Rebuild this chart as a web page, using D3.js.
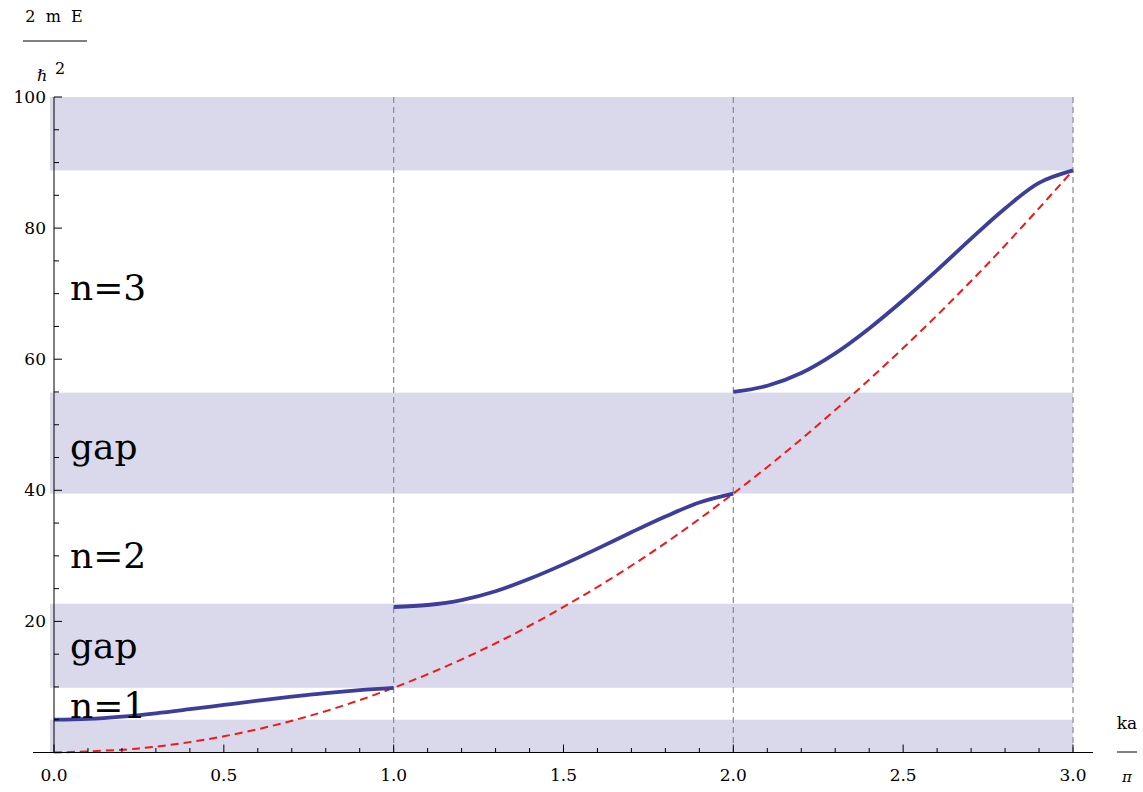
<!DOCTYPE html>
<html>
<head>
<meta charset="utf-8">
<script src="https://cdn.jsdelivr.net/npm/d3@7"></script>
<style>
  body { margin: 0; background: #fff; }
  text { font-family: "DejaVu Serif", serif; }
</style>
</head>
<body>
<svg></svg>
<script>
// band structure, k in units of pi/a, energy in 2mE/hbar^2
const band1K = [0.0, 0.1, 0.2, 0.3, 0.4, 0.5, 0.6, 0.7, 0.8, 0.9, 1.0]
const band1E = [5.0, 5.12, 5.47, 5.98, 6.6, 7.25, 7.9, 8.52, 9.07, 9.52, 9.87]
const band2K = [1.0, 1.1, 1.2, 1.3, 1.4, 1.5, 1.6, 1.7, 1.8, 1.9, 2.0]
const band2E = [22.2, 22.5, 23.25, 24.6, 26.5, 28.7, 31.1, 33.6, 36.0, 38.15, 39.5]
const band3K = [2.0, 2.1, 2.2, 2.3, 2.4, 2.5, 2.6, 2.7, 2.8, 2.9, 3.0]
const band3E = [55.0, 55.95, 57.9, 60.9, 64.7, 69.0, 73.6, 78.4, 83.0, 86.9, 88.8]

// free electron curve (red dashed)
const freeK = [0, 0.25, 0.5, 0.75, 1.0, 1.25, 1.5, 1.75, 2.0, 2.25, 2.5, 2.75, 3.0]
const freeE = [0, 0.62, 2.47, 5.55, 9.87, 15.4, 22.2, 30.2, 39.5, 50.0, 61.7, 74.6, 88.8]

// forbidden energy ranges (shaded)
const shadeLow = [0, 9.87, 39.5, 88.8]
const shadeHigh = [5.0, 22.7, 54.9, 100]

// zone boundaries
const zoneK = [1, 2, 3]

// text labels in the plot
const labelText = ['n=3', 'gap', 'n=2', 'gap', 'n=1']
const labelE = [69.0, 44.7, 28.2, 14.4, 5.3]

const xTicks = [0, 0.5, 1.0, 1.5, 2.0, 2.5, 3.0]
const yTicks = [20, 40, 60, 80, 100]

function zip(ks, es) {
  return ks.map((k, i) => ({k: k, e: es[i]}))
}

function makePlot() {
  const WIDTH = 1143
  const HEIGHT = 792
  const X0 = 54, X1 = 1073
  const Y0 = 752.5, Y1 = 97

  const x = d3.scaleLinear().domain([0, 3]).range([X0, X1])
  const y = d3.scaleLinear().domain([0, 100]).range([Y0, Y1])

  const svg = d3.select('svg')
  svg.attr('width', WIDTH)
  svg.attr('height', HEIGHT)

  // shaded gaps
  svg.append('g').selectAll('rect')
    .data(shadeLow.map((lo, i) => ({lo: lo, hi: shadeHigh[i]})))
    .enter().append('rect')
      .attr('x', x(0) - 4)
      .attr('y', d => y(d.hi))
      .attr('width', x(3) - x(0) + 4)
      .attr('height', d => y(d.lo) - y(d.hi))
      .attr('fill', '#d9d9eb')

  // dashed zone lines
  svg.append('g').selectAll('line')
    .data(zoneK)
    .enter().append('line')
      .attr('x1', d => x(d)).attr('x2', d => x(d))
      .attr('y1', y(100)).attr('y2', y(0))
      .attr('stroke', '#8a8a8a')
      .attr('stroke-width', 1.2)
      .attr('stroke-dasharray', '6,4')

  const line = d3.line()
    .x(d => x(d.k))
    .y(d => y(d.e))
    .curve(d3.curveCatmullRom.alpha(0.5))

  svg.append('path')
    .datum(zip(freeK, freeE))
    .attr('d', line)
    .attr('fill', 'none')
    .attr('stroke', '#f01818')
    .attr('stroke-width', 2)
    .attr('stroke-dasharray', '8,5')

  const bands = [zip(band1K, band1E), zip(band2K, band2E), zip(band3K, band3E)]
  svg.append('g').selectAll('path')
    .data(bands)
    .enter().append('path')
      .attr('d', line)
      .attr('fill', 'none')
      .attr('stroke', '#3d3d9c')
      .attr('stroke-width', 3.8)

  // axes
  const xAxis = svg.append('g')
    .attr('transform', `translate(0,${Y0})`)
  xAxis.append('line')
    .attr('x1', 33).attr('x2', 1093)
    .attr('stroke', '#000')
  xAxis.selectAll('.minor')
    .data(d3.range(0, 31).map(i => i / 10))
    .enter().append('line')
      .attr('x1', d => x(d)).attr('x2', d => x(d))
      .attr('y1', 0)
      .attr('y2', (d, i) => i % 5 === 0 ? -8 : -4.5)
      .attr('stroke', '#000')
  xAxis.selectAll('text')
    .data(xTicks)
    .enter().append('text')
      .attr('x', d => x(d))
      .attr('y', 28)
      .attr('text-anchor', 'middle')
      .attr('font-size', 17)
      .text(d => d.toFixed(1))

  const yAxis = svg.append('g')
    .attr('transform', `translate(${X0},0)`)
  yAxis.append('line')
    .attr('y1', y(100)).attr('y2', y(0))
    .attr('stroke', '#000')
  yAxis.selectAll('.minor')
    .data(d3.range(1, 21).map(i => i * 5))
    .enter().append('line')
      .attr('y1', d => y(d)).attr('y2', d => y(d))
      .attr('x1', 0)
      .attr('x2', d => d % 20 === 0 ? 8 : 5)
      .attr('stroke', '#000')
  yAxis.selectAll('text')
    .data(yTicks)
    .enter().append('text')
      .attr('x', -8)
      .attr('y', d => y(d) + 6)
      .attr('text-anchor', 'end')
      .attr('font-size', 17)
      .text(d => d)

  // labels inside plot
  svg.append('g').selectAll('text')
    .data(labelText.map((t, i) => ({t: t, e: labelE[i]})))
    .enter().append('text')
      .attr('x', 70)
      .attr('y', d => y(d.e))
      .attr('font-size', 36)
      .text(d => d.t)

  // y axis label (fraction)
  const yl = svg.append('g')
  yl.append('text')
    .attr('x', 54).attr('y', 22)
    .attr('text-anchor', 'middle')
    .attr('font-size', 16)
    .attr('xml:space', 'preserve')
    .text('2  m  E')
  yl.append('line')
    .attr('x1', 23).attr('x2', 87)
    .attr('y1', 41).attr('y2', 41)
    .attr('stroke', '#000')
  yl.append('text')
    .attr('x', 37).attr('y', 81)
    .attr('font-size', 16)
    .attr('font-style', 'italic')
    .text('ℏ')
  yl.append('text')
    .attr('x', 55).attr('y', 74)
    .attr('font-size', 16)
    .text('2')

  // x axis label (fraction)
  const xl = svg.append('g')
  xl.append('text')
    .attr('x', 1127).attr('y', 729)
    .attr('text-anchor', 'middle')
    .attr('font-size', 17)
    .text('ka')
  xl.append('line')
    .attr('x1', 1117).attr('x2', 1137)
    .attr('y1', 752).attr('y2', 752)
    .attr('stroke', '#000')
  xl.append('text')
    .attr('x', 1127).attr('y', 782)
    .attr('text-anchor', 'middle')
    .attr('font-size', 15)
    .attr('font-style', 'italic')
    .text('π')
}

makePlot()
</script>
</body>
</html>
